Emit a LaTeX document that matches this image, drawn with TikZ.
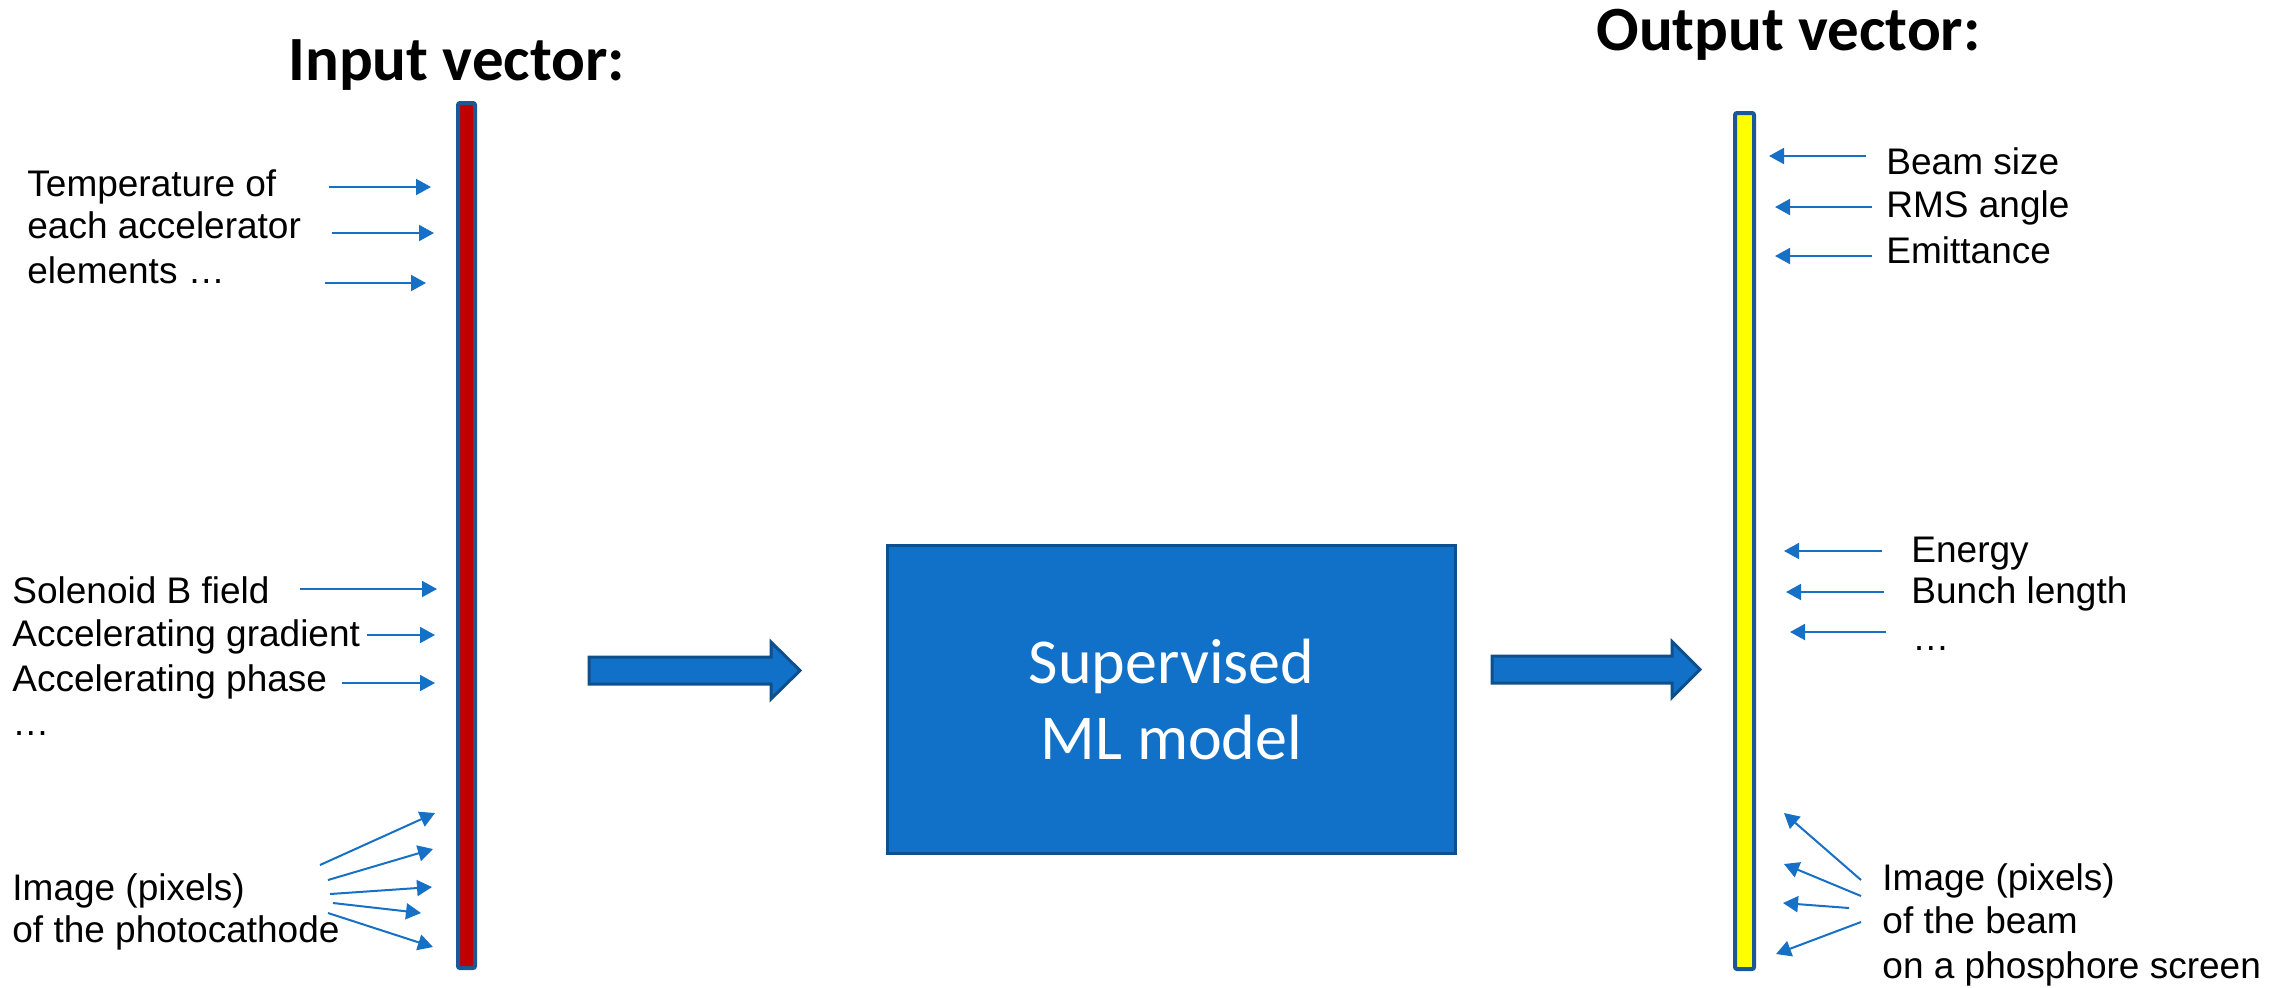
\documentclass[tikz,border=0pt]{standalone}
\usepackage{fontspec}
\setmainfont{Liberation Sans}
\newfontfamily\calibri{Carlito}
\usetikzlibrary{arrows.meta}
\definecolor{arrowblue}{RGB}{21,112,198}
\definecolor{boxfill}{RGB}{17,112,199}
\definecolor{boxborder}{RGB}{14,79,142}
\definecolor{barborder}{RGB}{28,88,152}
\definecolor{barred}{RGB}{192,0,0}
\definecolor{baryellow}{RGB}{255,255,0}
\tikzset{
  lbl/.style={anchor=base west, inner sep=0pt, font=\fontsize{18.5pt}{22pt}\selectfont},
  ttl/.style={anchor=base west, inner sep=0pt, font=\calibri\bfseries\fontsize{31.5pt}{36pt}\selectfont},
  thinarrow/.style={draw=arrowblue, line width=1pt, -{Triangle[length=7.5pt,width=8pt]}},
  vecbar/.style={draw=barborder, line width=2pt, rounded corners=1pt, inner sep=0pt},
  mlbox/.style={draw=boxborder, fill=boxfill, line width=1.5pt, inner sep=0pt,
    minimum width=284pt, minimum height=154pt, text=white, align=center,
    font=\calibri\fontsize{32pt}{38pt}\selectfont},
  bigarrow/.style={draw=boxborder, fill=boxfill, line width=1.5pt, line join=miter},
}
\begin{document}
\begin{tikzpicture}[x=0.5pt,y=-0.5pt]
\useasboundingbox (0,0) rectangle (2284,987);
% titles
\node[ttl] (tin) at (288,80) {Input vector:};
\node[ttl] (tout) at (1596,50) {Output vector:};
% bars
\node[vecbar, fill=barred, minimum width=8.5pt, minimum height=432.5pt] (inbar) at (466.5,535.5) {};
\node[vecbar, fill=baryellow, minimum width=9.5pt, minimum height=428pt] (outbar) at (1744.5,541) {};
% model box
\node[mlbox] (ml) at (1171.5,699.5) {Supervised\\ML model};
% big arrows
\coordinate (la) at (589,670.5);
\coordinate (ra) at (1492,669.5);
\draw[bigarrow] (la) ++(0,-13.5) -- ++(182,0) -- ++(0,-15) -- ++(29,28.5) -- ++(-29,28.5) -- ++(0,-15) -- ++(-182,0) -- cycle;
\draw[bigarrow] (ra) ++(0,-13.5) -- ++(180,0) -- ++(0,-14.5) -- ++(28,28) -- ++(-28,28) -- ++(0,-14.5) -- ++(-180,0) -- cycle;
% left labels
\node[lbl] (l1) at (27,196) {Temperature of};
\node[lbl] (l2) at (27,238) {each accelerator};
\node[lbl] (l3) at (27,283) {elements …};
\node[lbl] (l4) at (12,603) {Solenoid B field};
\node[lbl] (l5) at (12,646) {Accelerating gradient};
\node[lbl] (l6) at (12,691) {Accelerating phase};
\node[lbl] (l7) at (12,735) {…};
\node[lbl] (l8) at (12,900) {Image (pixels)};
\node[lbl] (l9) at (12,942) {of the photocathode};
% right labels
\node[lbl] (r1) at (1886,174) {Beam size};
\node[lbl] (r2) at (1886,217) {RMS angle};
\node[lbl] (r3) at (1886,263) {Emittance};
\node[lbl] (r4) at (1911,562) {Energy};
\node[lbl] (r5) at (1911,603) {Bunch length};
\node[lbl] (r6) at (1912,650) {…};
\node[lbl] (r7) at (1882,890) {Image (pixels)};
\node[lbl] (r8) at (1882,933) {of the beam};
\node[lbl] (r9) at (1882,978) {on a phosphore screen};
% left thin arrows
\path (329,187) coordinate (a1s) (431,187) coordinate (a1e)
      (332,233) coordinate (a2s) (434,233) coordinate (a2e)
      (325,283) coordinate (a3s) (426,283) coordinate (a3e)
      (300,589) coordinate (a4s) (437,589) coordinate (a4e)
      (367,635) coordinate (a5s) (435,635) coordinate (a5e)
      (342,683) coordinate (a6s) (435,683) coordinate (a6e)
      (320,865) coordinate (b1s) (435,813) coordinate (b1e)
      (328,880) coordinate (b2s) (433,849) coordinate (b2e)
      (330,894) coordinate (b3s) (432,887) coordinate (b3e)
      (333,903) coordinate (b4s) (421,913) coordinate (b4e)
      (328,913) coordinate (b5s) (433,947) coordinate (b5e);
\foreach \n in {a1,a2,a3,a4,a5,a6,b1,b2,b3,b4,b5}
  \draw[thinarrow] (\n s) -- (\n e);
% right thin arrows
\path (1866,156) coordinate (c1s) (1769,156) coordinate (c1e)
      (1872,207) coordinate (c2s) (1775,207) coordinate (c2e)
      (1872,256) coordinate (c3s) (1775,256) coordinate (c3e)
      (1882,551) coordinate (c4s) (1784,551) coordinate (c4e)
      (1884,592) coordinate (c5s) (1786,592) coordinate (c5e)
      (1886,632) coordinate (c6s) (1790,632) coordinate (c6e)
      (1861,880) coordinate (d1s) (1784,813) coordinate (d1e)
      (1861,896) coordinate (d2s) (1784,864) coordinate (d2e)
      (1849,908) coordinate (d3s) (1783,903) coordinate (d3e)
      (1861,922) coordinate (d4s) (1776,954) coordinate (d4e);
\foreach \n in {c1,c2,c3,c4,c5,c6,d1,d2,d3,d4}
  \draw[thinarrow] (\n s) -- (\n e);
\end{tikzpicture}
\end{document}
